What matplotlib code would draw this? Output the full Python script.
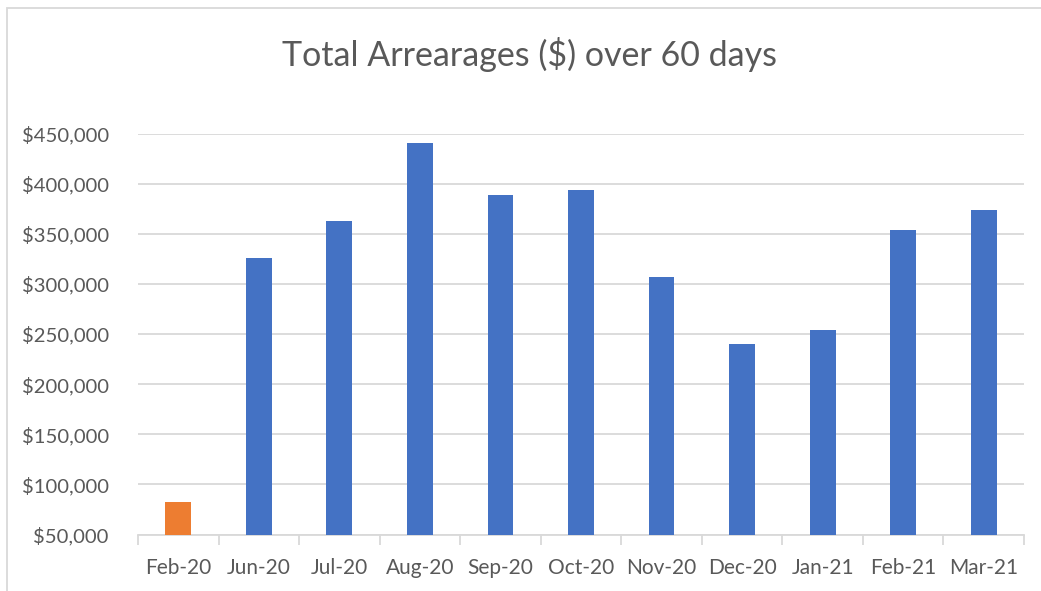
import numpy as np
import matplotlib.pyplot as plt
from matplotlib.patches import Rectangle
from matplotlib.ticker import FuncFormatter

months = ['Feb-20', 'Jun-20', 'Jul-20', 'Aug-20', 'Sep-20', 'Oct-20',
          'Nov-20', 'Dec-20', 'Jan-21', 'Feb-21', 'Mar-21']
arrears = [82500, 325500, 362500, 440500, 388500, 393800,
           307200, 240500, 254200, 354200, 373500]
bar_colors = ['#ED7D31'] + ['#4472C4'] * 10

plt.rcParams['font.family'] = ['Lato', 'DejaVu Sans']
txt = '#595959'
grid = '#D9D9D9'

fig = plt.figure(figsize=(10.41, 5.91), dpi=100)
ax = fig.add_axes([138 / 1041, 1 - 534.5 / 591, (1024 - 138) / 1041, 401 / 591])

x = np.arange(len(months))
ax.bar(x, arrears, width=0.32, color=bar_colors, zorder=3)

ax.set_xlim(-0.5, len(months) - 0.5)
ax.set_ylim(50000, 450000)
ax.set_yticks(np.arange(50000, 450001, 50000))
ax.yaxis.set_major_formatter(FuncFormatter(lambda v, p: '${:,.0f}'.format(v)))
ax.grid(axis='y', color=grid, linewidth=1.3, zorder=0)

ax.set_xticks(x)
ax.set_xticklabels(months)
ax.set_xticks(np.arange(-0.5, len(months), 1), minor=True)
ax.tick_params(axis='x', which='major', length=0, pad=17, labelsize=15, labelcolor=txt)
ax.tick_params(axis='x', which='minor', length=7, color=grid, width=1.3)
ax.tick_params(axis='y', length=0, pad=21, labelsize=14.6, labelcolor=txt)

for s in ['top', 'right', 'left']:
    ax.spines[s].set_visible(False)
ax.spines['bottom'].set_color(grid)
ax.spines['bottom'].set_linewidth(1.3)

fig.text(530 / 1041, 1 - 55 / 591, 'Total Arrearages ($) over 60 days',
         ha='center', va='center', fontsize=24.5, color=txt)

# chart frame
fig.patches.append(Rectangle((7 / 1041, -0.05), 1.2, 1 - 8 / 591 + 0.05,
                             transform=fig.transFigure, fill=False,
                             edgecolor='#D9D9D9', linewidth=1.3))

fig.savefig('out.png', dpi=100)
